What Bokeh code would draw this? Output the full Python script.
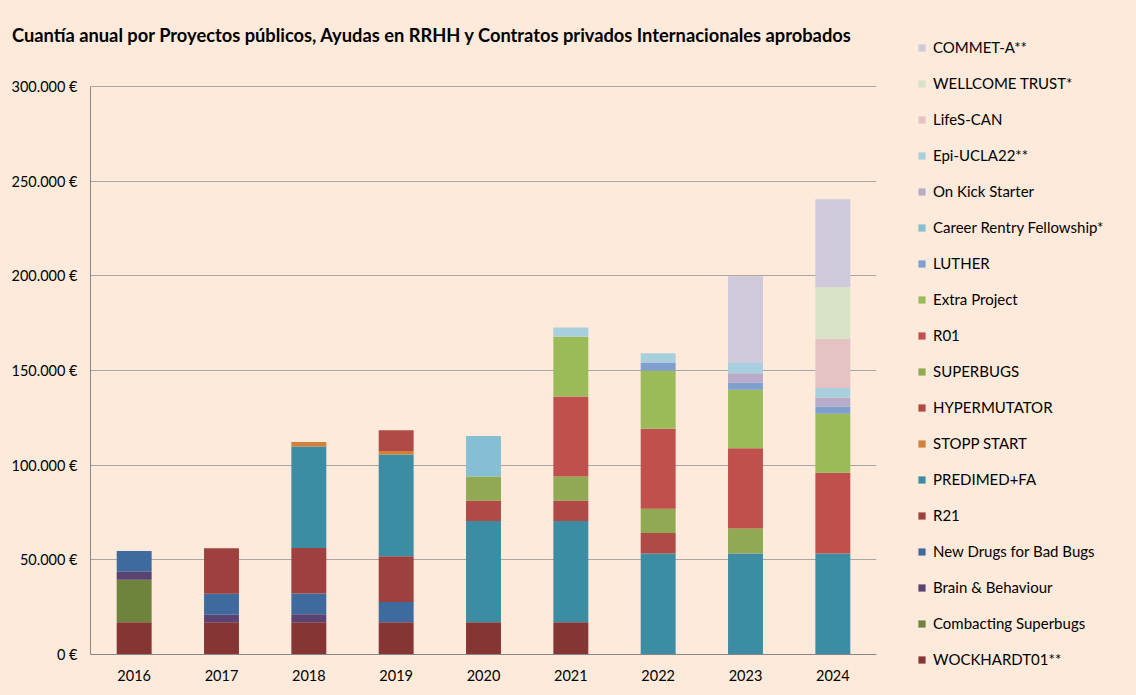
from bokeh.plotting import figure
from bokeh.layouts import row, column
from bokeh.models import Range1d, FactorRange, Legend, LegendItem, FixedTicker, Div
from bokeh.embed import file_html
from bokeh.resources import INLINE

years = ["2016", "2017", "2018", "2019", "2020", "2021", "2022", "2023", "2024"]

# series, in stacking order (bottom -> top)
wockhardt01 = [17000, 17000, 17000, 17000, 17000, 17000, 0, 0, 0]
combacting_superbugs = [22500, 0, 0, 0, 0, 0, 0, 0, 0]
brain_behaviour = [4200, 4000, 4200, 0, 0, 0, 0, 0, 0]
new_drugs = [11000, 11100, 11000, 10700, 0, 0, 0, 0, 0]
r21 = [0, 24000, 24000, 24200, 0, 0, 0, 0, 0]
predimed = [0, 0, 53700, 53700, 53500, 53500, 53300, 53300, 53300]
stopp_start = [0, 0, 2400, 1900, 0, 0, 0, 0, 0]
hypermutator = [0, 0, 0, 10900, 10900, 10900, 10900, 0, 0]
superbugs = [0, 0, 0, 0, 12600, 12600, 12800, 13300, 0]
r01 = [0, 0, 0, 0, 0, 42300, 42300, 42300, 42700]
extra_project = [0, 0, 0, 0, 0, 31500, 30700, 30900, 31100]
luther = [0, 0, 0, 0, 0, 0, 4200, 3700, 3900]
career_rentry = [0, 0, 0, 0, 21400, 0, 0, 0, 0]
on_kick_starter = [0, 0, 0, 0, 0, 0, 0, 5100, 4700]
epi_ucla22 = [0, 0, 0, 0, 0, 4900, 4900, 5300, 5100]
lifes_can = [0, 0, 0, 0, 0, 0, 0, 0, 26000]
wellcome = [0, 0, 0, 0, 0, 0, 0, 0, 27200]
commet_a = [0, 0, 0, 0, 0, 0, 0, 45900, 46400]

series_names = ["WOCKHARDT01**", "Combacting Superbugs", "Brain & Behaviour",
                "New Drugs for Bad Bugs", "R21", "PREDIMED+FA", "STOPP START",
                "HYPERMUTATOR", "SUPERBUGS", "R01", "Extra Project", "LUTHER",
                "Career Rentry Fellowship*", "On Kick Starter", "Epi-UCLA22**",
                "LifeS-CAN", "WELLCOME TRUST*", "COMMET-A**"]
series_values = [wockhardt01, combacting_superbugs, brain_behaviour, new_drugs, r21,
                 predimed, stopp_start, hypermutator, superbugs, r01, extra_project,
                 luther, career_rentry, on_kick_starter, epi_ucla22, lifes_can,
                 wellcome, commet_a]
colors = ["#853534", "#6E843C", "#5A4373", "#3E6A9E", "#9E403E", "#3C8CA4",
          "#D3803A", "#B04A46", "#8FAA52", "#C0504D", "#9BBB59", "#7F9FCF",
          "#86BFD3", "#B8ABCA", "#A8CFDE", "#E5C3C3", "#D8E3C6", "#D0C9DB"]

y_ticks = [0, 50000, 100000, 150000, 200000, 250000, 300000]
y_tick_labels = ["0 €", "50.000 €", "100.000 €", "150.000 €", "200.000 €", "250.000 €", "300.000 €"]

title_text = "Cuantía anual por Proyectos públicos, Ayudas en RRHH y Contratos privados Internacionales aprobados"

FONT = "Lato"
BG = "#FDEADA"

# layout geometry (pixels)
TOTAL_H = 695
TITLE_H = 47
PLOT_H_TOTAL = TOTAL_H - TITLE_H
PLOT_TOP_PAD = 86 - TITLE_H      # space between title and the 300.000 line
PLOT_BOTTOM_PAD = TOTAL_H - 654  # space below the 0 line for the year labels
PLOT_H = PLOT_H_TOTAL - PLOT_TOP_PAD - PLOT_BOTTOM_PAD
Y_MAX = 300000
unit_per_px = Y_MAX / PLOT_H

keys = ["s%d" % i for i in range(len(series_names))]
data = {"years": years}
for k, v in zip(keys, series_values):
    data[k] = v

# ---- main chart ----
p = figure(width=900, height=PLOT_H_TOTAL, x_range=FactorRange(*years),
           y_range=Range1d(-PLOT_BOTTOM_PAD * unit_per_px, Y_MAX + PLOT_TOP_PAD * unit_per_px),
           output_backend="svg", toolbar_location=None,
           min_border_left=90, min_border_right=24, min_border_top=0, min_border_bottom=0)
p.background_fill_color = BG
p.border_fill_color = BG
p.outline_line_color = None

renderers = p.vbar_stack(keys, x="years", width=0.4, source=data, color=colors,
                         line_color=None)

p.xgrid.grid_line_color = None
p.ygrid.grid_line_color = "#A6A6A6"
p.ygrid.ticker = FixedTicker(ticks=y_ticks)

p.yaxis.ticker = FixedTicker(ticks=y_ticks)
p.yaxis.bounds = (0, Y_MAX)
p.yaxis.major_label_overrides = {t: l for t, l in zip(y_ticks, y_tick_labels)}
p.yaxis.axis_line_color = "#868686"
p.yaxis.major_tick_line_color = None
p.yaxis.minor_tick_line_color = None
p.yaxis.major_tick_out = 0
p.yaxis.major_label_standoff = 13
p.yaxis.major_label_text_font = FONT
p.yaxis.major_label_text_font_size = "14.5px"
p.yaxis.major_label_text_color = "#000000"

p.xaxis.fixed_location = 0
p.xaxis.axis_line_color = "#868686"
p.xaxis.major_tick_line_color = None
p.xaxis.major_tick_out = 0
p.xaxis.major_label_standoff = 15
p.xaxis.major_label_text_font = FONT
p.xaxis.major_label_text_font_size = "14.5px"
p.xaxis.major_label_text_color = "#000000"

title_div = Div(text=title_text, width=900, height=TITLE_H, margin=(0, 0, 0, 0),
                styles={"font-family": "Lato", "font-weight": "bold", "font-size": "18.3px",
                        "line-height": "20px", "padding-top": "25px", "padding-left": "12px",
                        "box-sizing": "border-box", "white-space": "nowrap",
                        "background-color": BG, "color": "#000000"})

# ---- legend panel ----
pl = figure(width=236, height=TOTAL_H, x_range=FactorRange(*years), y_range=Range1d(0, 1),
            output_backend="svg", toolbar_location=None,
            x_axis_location=None, y_axis_location=None,
            min_border_left=0, min_border_right=0, min_border_top=0, min_border_bottom=0)
pl.background_fill_color = BG
pl.border_fill_color = BG
pl.outline_line_color = None
pl.xgrid.visible = False
pl.ygrid.visible = False
legend_renderers = pl.vbar_stack(keys, x="years", width=0.4, source=data, color=colors,
                                 line_color=None)
for r in legend_renderers:
    r.visible = False

items = [LegendItem(label=n, renderers=[r]) for n, r in zip(series_names, legend_renderers)]
items.reverse()
legend = Legend(items=items, location=(17, 27), orientation="vertical",
                glyph_width=9, glyph_height=9, label_height=18, spacing=18,
                label_standoff=7, padding=0, margin=0,
                background_fill_alpha=0, border_line_color=None,
                inactive_fill_alpha=0,
                label_text_font=FONT, label_text_font_size="15px",
                label_text_color="#000000")
pl.add_layout(legend, "center")

left_col = column(title_div, p, spacing=0, styles={"background-color": BG})
layout = row(left_col, pl, spacing=0, styles={"background-color": BG})

open("out.html", "w").write(file_html(layout, INLINE))
